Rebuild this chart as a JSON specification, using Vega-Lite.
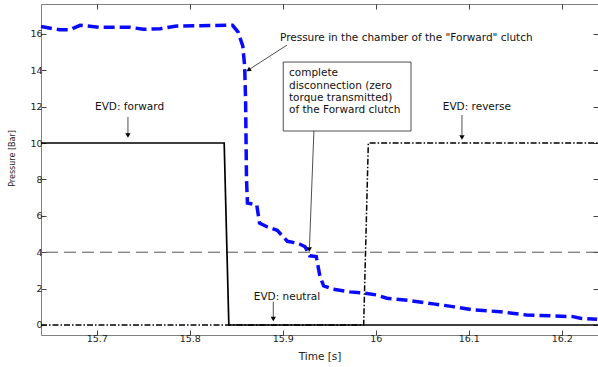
{
  "$schema": "https://vega.github.io/schema/vega-lite/v6.json",
  "width": 557,
  "height": 331,
  "autosize": "none",
  "padding": {"left": 41, "top": 4, "right": 0, "bottom": 32},
  "background": "white",
  "config": {
    "view": {"stroke": "#808080", "strokeWidth": 1},
    "font": "DejaVu Sans",
    "axis": {"domain": false, "grid": false, "tickColor": "#444", "labelColor": "#222", "labelFontSize": 9.5, "titleFontWeight": "normal", "titleColor": "#222", "labelFont": "DejaVu Sans", "titleFont": "DejaVu Sans"}
  },
  "datasets": {
    "pressure": [
      {"t": 15.640, "p": 16.40}, {"t": 15.660, "p": 16.22}, {"t": 15.671, "p": 16.22}, {"t": 15.682, "p": 16.47},
      {"t": 15.703, "p": 16.36}, {"t": 15.736, "p": 16.36}, {"t": 15.750, "p": 16.25}, {"t": 15.768, "p": 16.28},
      {"t": 15.786, "p": 16.43}, {"t": 15.811, "p": 16.45}, {"t": 15.846, "p": 16.47}, {"t": 15.852, "p": 16.09},
      {"t": 15.857, "p": 15.33}, {"t": 15.859, "p": 14.23}, {"t": 15.860, "p": 12.4}, {"t": 15.861, "p": 8.0},
      {"t": 15.862, "p": 6.7}, {"t": 15.872, "p": 6.6}, {"t": 15.875, "p": 5.6}, {"t": 15.883, "p": 5.4},
      {"t": 15.894, "p": 5.2}, {"t": 15.905, "p": 4.6}, {"t": 15.915, "p": 4.5}, {"t": 15.918, "p": 4.45},
      {"t": 15.924, "p": 4.3}, {"t": 15.929, "p": 3.8}, {"t": 15.936, "p": 3.76}, {"t": 15.940, "p": 2.66},
      {"t": 15.944, "p": 2.15}, {"t": 15.954, "p": 1.97}, {"t": 15.972, "p": 1.82}, {"t": 15.988, "p": 1.75},
      {"t": 16.001, "p": 1.65}, {"t": 16.012, "p": 1.47}, {"t": 16.037, "p": 1.34}, {"t": 16.062, "p": 1.16},
      {"t": 16.083, "p": 1.01}, {"t": 16.105, "p": 0.83}, {"t": 16.134, "p": 0.73}, {"t": 16.162, "p": 0.55},
      {"t": 16.191, "p": 0.50}, {"t": 16.212, "p": 0.46}, {"t": 16.220, "p": 0.37}, {"t": 16.238, "p": 0.31}
    ],
    "forward": [
      {"t": 15.640, "v": 10}, {"t": 15.837, "v": 10}, {"t": 15.842, "v": 0}, {"t": 16.239, "v": 0}
    ],
    "reverse": [
      {"t": 15.640, "v": 0}, {"t": 15.987, "v": 0}, {"t": 15.992, "v": 10}, {"t": 16.239, "v": 10}
    ],
    "threshold": [{"v": 4}],
    "shafts": [
      {"t": 15.7335, "v": 11.43, "t2": 15.7335, "v2": 10.49},
      {"t": 16.0927, "v": 11.54, "t2": 16.0927, "v2": 10.44},
      {"t": 15.8898, "v": 1.28, "t2": 15.8898, "v2": 0.44},
      {"t": 15.9335, "v": 10.66, "t2": 15.9287, "v2": 4.29},
      {"t": 15.9045, "v": 15.38, "t2": 15.8647, "v2": 14.07}
    ],
    "heads": [
      {"t": 15.7335, "v": 10.41},
      {"t": 16.0927, "v": 10.30},
      {"t": 15.8898, "v": 0.33},
      {"t": 15.9285, "v": 4.15}
    ],
    "diaghead": [{"t": 15.8638, "v": 14.03}],
    "box": [{"t": 15.9005, "t2": 16.0379, "v": 14.45, "v2": 10.66}],
    "boxtext": [
      {"t": 15.9067, "v": 13.85, "label": "complete"},
      {"t": 15.9067, "v": 13.13, "label": "disconnection (zero"},
      {"t": 15.9067, "v": 12.47, "label": "torque transmitted)"},
      {"t": 15.9067, "v": 11.81, "label": "of the Forward clutch"}
    ],
    "labels": [
      {"t": 15.7352, "v": 11.98, "label": "EVD: forward"},
      {"t": 16.1088, "v": 11.98, "label": "EVD: reverse"},
      {"t": 15.9045, "v": 1.555, "label": "EVD: neutral"}
    ],
    "title": [{"t": 15.897, "v": 15.79, "label": "Pressure in the chamber of the \"Forward\" clutch"}]
  },
  "resolve": {"axis": {"x": "independent", "y": "independent"}},
  "layer": [
    {
      "layer": [
        {
          "data": {"name": "reverse"},
          "mark": {"type": "line", "color": "black", "strokeWidth": 1.5, "strokeDash": [6, 2, 1.5, 2]},
          "encoding": {
            "x": {"field": "t", "type": "quantitative", "scale": {"domain": [15.64, 16.239], "nice": false, "zero": false},
              "axis": {"orient": "bottom", "title": "Time [s]", "values": [15.7, 15.8, 15.9, 16, 16.1, 16.2], "format": "~g", "tickSize": -5, "labelPadding": 3, "titleFontSize": 10.5, "titleY": 21, "titleBaseline": "middle"}},
            "y": {"field": "v", "type": "quantitative", "scale": {"domain": [-0.55, 17.64], "nice": false, "zero": false},
              "axis": {"orient": "left", "title": "Pressure [Bar]", "values": [0, 2, 4, 6, 8, 10, 12, 14, 16], "tickSize": -5, "labelPadding": 4, "titleFontSize": 8, "titleX": -29, "titleY": 154, "titleBaseline": "middle"}}
          }
        },
        {
          "data": {"name": "threshold"},
          "mark": {"type": "rule", "color": "#555", "strokeDash": [12, 6], "strokeWidth": 1},
          "encoding": {
            "y": {"field": "v", "type": "quantitative"}
          }
        },
        {
          "data": {"name": "forward"},
          "mark": {"type": "line", "color": "black", "strokeWidth": 1.7},
          "encoding": {
            "x": {"field": "t", "type": "quantitative"},
            "y": {"field": "v", "type": "quantitative"}
          }
        },
        {
          "data": {"name": "pressure"},
          "mark": {"type": "line", "color": "#0a0aff", "strokeWidth": 3.5, "strokeDash": [11, 5]},
          "encoding": {
            "x": {"field": "t", "type": "quantitative"},
            "y": {"field": "p", "type": "quantitative"}
          }
        },
        {
          "data": {"name": "shafts"},
          "mark": {"type": "rule", "color": "#222", "strokeWidth": 0.8},
          "encoding": {
            "x": {"field": "t", "type": "quantitative"},
            "y": {"field": "v", "type": "quantitative"},
            "x2": {"field": "t2"},
            "y2": {"field": "v2"}
          }
        },
        {
          "data": {"name": "heads"},
          "mark": {"type": "point", "shape": "triangle-down", "filled": true, "color": "black", "size": 28, "opacity": 1},
          "encoding": {
            "x": {"field": "t", "type": "quantitative"},
            "y": {"field": "v", "type": "quantitative"}
          }
        },
        {
          "data": {"name": "diaghead"},
          "mark": {"type": "point", "shape": "triangle", "filled": true, "color": "black", "size": 28, "opacity": 1, "angle": 237},
          "encoding": {
            "x": {"field": "t", "type": "quantitative"},
            "y": {"field": "v", "type": "quantitative"}
          }
        },
        {
          "data": {"name": "box"},
          "mark": {"type": "rect", "fill": "white", "stroke": "#222", "strokeWidth": 0.8},
          "encoding": {
            "x": {"field": "t", "type": "quantitative"},
            "x2": {"field": "t2"},
            "y": {"field": "v", "type": "quantitative"},
            "y2": {"field": "v2"}
          }
        },
        {
          "data": {"name": "boxtext"},
          "mark": {"type": "text", "align": "left", "baseline": "middle", "fontSize": 10.5, "color": "#111"},
          "encoding": {
            "x": {"field": "t", "type": "quantitative"},
            "y": {"field": "v", "type": "quantitative"},
            "text": {"field": "label"}
          }
        },
        {
          "data": {"name": "labels"},
          "mark": {"type": "text", "align": "center", "baseline": "middle", "fontSize": 10.5, "color": "#111"},
          "encoding": {
            "x": {"field": "t", "type": "quantitative"},
            "y": {"field": "v", "type": "quantitative"},
            "text": {"field": "label"}
          }
        },
        {
          "data": {"name": "title"},
          "mark": {"type": "text", "align": "left", "baseline": "middle", "fontSize": 10.5, "color": "#111"},
          "encoding": {
            "x": {"field": "t", "type": "quantitative"},
            "y": {"field": "v", "type": "quantitative"},
            "text": {"field": "label"}
          }
        }
      ]
    },
    {
      "data": {"name": "forward"},
      "mark": {"type": "point", "opacity": 0},
      "encoding": {
        "x": {"field": "t", "type": "quantitative",
          "axis": {"orient": "top", "title": null, "labels": false, "values": [15.7, 15.8, 15.9, 16, 16.1, 16.2], "tickSize": -5}},
        "y": {"field": "v", "type": "quantitative",
          "axis": {"orient": "right", "title": null, "labels": false, "values": [0, 2, 4, 6, 8, 10, 12, 14, 16], "tickSize": -5}}
      }
    }
  ]
}
